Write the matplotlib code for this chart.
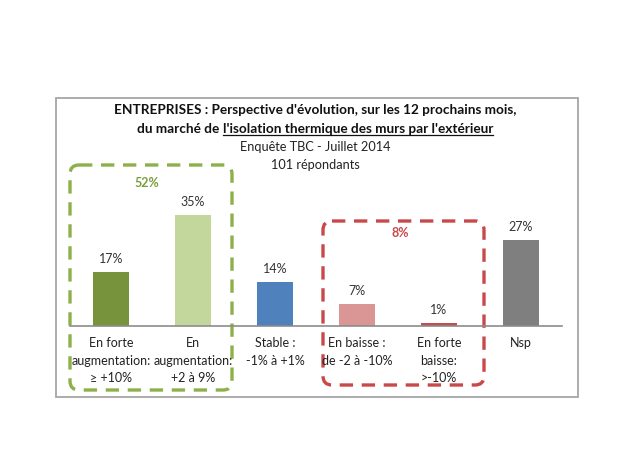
import matplotlib
matplotlib.use("Agg")
import matplotlib.pyplot as plt
from matplotlib.patches import FancyBboxPatch, Rectangle

# donnees
categories = ["En forte\naugmentation:\n\u2265 +10%", "En\naugmentation:\n+2 \u00e0 9%",
              "Stable :\n-1% \u00e0 +1%", "En baisse :\nde -2 \u00e0 -10%",
              "En forte\nbaisse:\n>-10%", "Nsp"]
valeurs = [17, 35, 14, 7, 1, 27]
couleurs = ["#77933c", "#c3d69b", "#4f81bd", "#d99694", "#c0504d", "#7f7f7f"]
total_hausse = "52%"
total_baisse = "8%"

plt.rcParams['font.family'] = ['Lato', 'DejaVu Sans']

W, H = 620, 465
fig = plt.figure(figsize=(W / 100, H / 100), dpi=100)

# calque en pixels pour le cadre, les titres et les zones en pointilles
over = fig.add_axes([0, 0, 1, 1])
over.set_xlim(0, W)
over.set_ylim(H, 0)
over.axis('off')

# graphique des barres
ax = fig.add_axes([70 / W, (H - 326) / H, 492 / W, 127 / H])
x = list(range(len(valeurs)))
ax.bar(x, valeurs, width=0.43, color=couleurs, zorder=2)
ax.set_xlim(-0.5, len(valeurs) - 0.5)
ax.set_ylim(0, 40)
for s in ['top', 'right', 'left']:
    ax.spines[s].set_visible(False)
ax.spines['bottom'].set_color('#8c8c8c')
ax.spines['bottom'].set_linewidth(1.2)
ax.set_yticks([])
ax.set_xticks([])
ax.patch.set_alpha(0)
for i, v in zip(x, valeurs):
    ax.annotate(f"{v}%", (i, v), xytext=(0, 5), textcoords='offset points',
                ha='center', va='bottom', fontsize=9, color='#333333')
for i, c in zip(x, categories):
    ax.text(i, -0.09, c, transform=ax.get_xaxis_transform(), ha='center', va='top',
            fontsize=9, color='#222222', linespacing=1.55)

# cadre
over.add_patch(Rectangle((56, 98), 522, 299, fill=False, edgecolor='#a6a6a6', lw=1.3))

# titres
over.text(315, 110, "ENTREPRISES : Perspective d'\u00e9volution, sur les 12 prochains mois,",
          ha='center', va='center', fontsize=9.8, fontweight='bold', color='#111111')
t1 = over.text(226, 129, "du march\u00e9 de ", ha='right', va='center', fontsize=9.8,
               fontweight='bold', color='#111111')
t2 = over.text(226, 129, "l'isolation thermique des murs par l'ext\u00e9rieur", ha='left',
               va='center', fontsize=9.8, fontweight='bold', color='#111111')
over.text(315, 147, "Enqu\u00eate TBC - Juillet 2014", ha='center', va='center',
          fontsize=9.2, color='#222222')
over.text(315, 165, "101 r\u00e9pondants", ha='center', va='center',
          fontsize=9.2, color='#222222')

# recentrer la deuxieme ligne et souligner
fig.canvas.draw()
r = fig.canvas.get_renderer()
b1 = t1.get_window_extent(r)
b2 = t2.get_window_extent(r)
largeur = (b2.x1 - b1.x0) / fig.dpi * 100
gauche = 315 - largeur / 2
w1 = (b1.x1 - b1.x0) / fig.dpi * 100
t1.set_x(gauche + w1)
t2.set_x(gauche + w1)
w2 = (b2.x1 - b2.x0) / fig.dpi * 100
over.plot([gauche + w1, gauche + w1 + w2], [135, 135], color='#111111', lw=0.9)

# zones en pointilles
vert = FancyBboxPatch((70, 165), 162, 225, boxstyle="round,pad=0,rounding_size=9",
                      fill=False, edgecolor='#8db04a', lw=2.4, linestyle=(0, (4, 2.6)))
rouge = FancyBboxPatch((323, 221), 161, 164, boxstyle="round,pad=0,rounding_size=9",
                       fill=False, edgecolor='#c9484a', lw=2.4, linestyle=(0, (4, 2.6)))
over.add_patch(vert)
over.add_patch(rouge)
over.text(147, 183, total_hausse, ha='center', va='center', fontsize=9,
          fontweight='bold', color='#7a9e3a')
over.text(400, 233, total_baisse, ha='center', va='center', fontsize=9,
          fontweight='bold', color='#c9484a')

fig.savefig("out.png", dpi=100)
